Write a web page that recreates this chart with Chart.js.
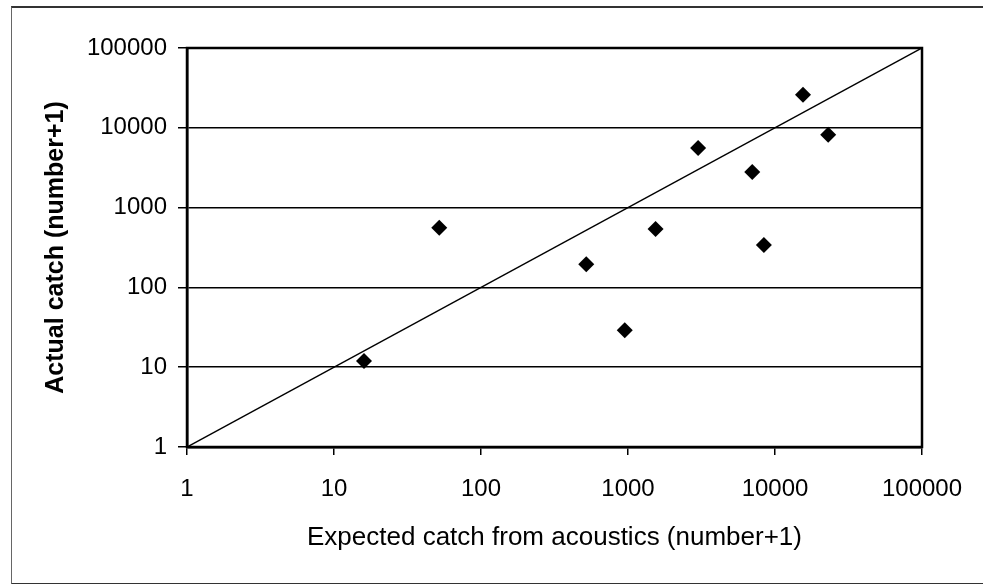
<!DOCTYPE html>
<html>
<head>
<meta charset="utf-8">
<script src="https://cdn.jsdelivr.net/npm/chart.js@4.4.1/dist/chart.umd.min.js"></script>
<style>
  body { margin: 0; background: #fff; overflow: hidden; }
  #wrap { position: relative; width: 983px; height: 584px; overflow: hidden; }
  #frame {
    position: absolute; left: 11px; top: 6px; width: 990px; height: 575px;
    border-top: 2px solid #333; border-left: 1px solid #666; border-bottom: 2px solid #333;
  }
  #myChart { position: absolute; left: 0; top: 0; }
</style>
</head>
<body>
<div id="wrap">
  <div id="frame"></div>
  <canvas id="myChart" width="983" height="584"></canvas>
</div>
<script>
// expected (acoustics) vs actual catch, both as number+1
const expected = [16, 52, 520, 950, 1540, 3000, 7000, 8400, 15500, 23000];
const actual = [12, 560, 195, 29, 540, 5600, 2800, 340, 26000, 8200];

// 1:1 reference line
const lineX = [1, 100000];
const lineY = [1, 100000];

const decades = [1, 10, 100, 1000, 10000, 100000];

const fontFamily = "'Liberation Sans', Arial, sans-serif";

const points = expected.map((x, i) => ({x: x, y: actual[i]}));
const diag = lineX.map((x, i) => ({x: x, y: lineY[i]}));

// outline on top + right of the plot area (axes borders only cover left + bottom)
const boxPlugin = {
  id: 'box',
  afterDatasetsDraw(chart) {
    const a = chart.chartArea;
    const ctx = chart.ctx;
    ctx.save();
    ctx.strokeStyle = '#000';
    ctx.lineWidth = 2.5;
    ctx.strokeRect(a.left, a.top, a.right - a.left, a.bottom - a.top);
    ctx.restore();
  }
};

const ctx = document.getElementById('myChart');
const chart = new Chart(ctx, {
  type: 'scatter',
  data: {
    datasets: [
      {
        data: points,
        pointStyle: 'rectRot',
        pointRadius: 8,
        backgroundColor: '#000',
        borderColor: '#000',
        borderWidth: 0,
      },
      {
        data: diag,
        showLine: true,
        pointRadius: 0,
        borderColor: '#000',
        borderWidth: 1.5,
      }
    ]
  },
  options: {
    responsive: false,
    animation: false,
    layout: {padding: {top: 48, right: 61, left: 0, bottom: 0}},
    plugins: {legend: {display: false}, tooltip: {enabled: false}},
    scales: {
      x: {
        type: 'logarithmic',
        min: 1,
        max: 100000,
        afterBuildTicks: (scale) => { scale.ticks = decades.map(v => ({value: v})); },
        afterFit: (scale) => { scale.height = 137; },
        grid: {drawOnChartArea: false, drawTicks: true, tickLength: 8, color: '#000', lineWidth: 1.5},
        border: {display: true, color: '#000', width: 2.5},
        ticks: {
          color: '#000',
          padding: 20,
          maxRotation: 0,
          autoSkip: false,
          font: {family: fontFamily, size: 24},
          callback: (v) => String(v),
        },
        title: {
          display: true,
          text: 'Expected catch from acoustics (number+1)',
          color: '#000',
          font: {family: fontFamily, size: 26},
          padding: {top: 0, bottom: 31},
        }
      },
      y: {
        type: 'logarithmic',
        min: 1,
        max: 100000,
        afterBuildTicks: (scale) => { scale.ticks = decades.map(v => ({value: v})); },
        afterFit: (scale) => { scale.width = 187; },
        grid: {color: '#000', lineWidth: 1.5, tickLength: 9},
        border: {display: true, color: '#000', width: 2.5},
        ticks: {
          color: '#000',
          padding: 11,
          autoSkip: false,
          font: {family: fontFamily, size: 24},
          callback: (v) => String(v),
        },
        title: {
          display: true,
          text: 'Actual catch (number+1)',
          color: '#000',
          font: {family: fontFamily, size: 25, weight: 'bold'},
          padding: {top: 41, bottom: 0},
        }
      }
    }
  },
  plugins: [boxPlugin]
});
</script>
</body>
</html>
